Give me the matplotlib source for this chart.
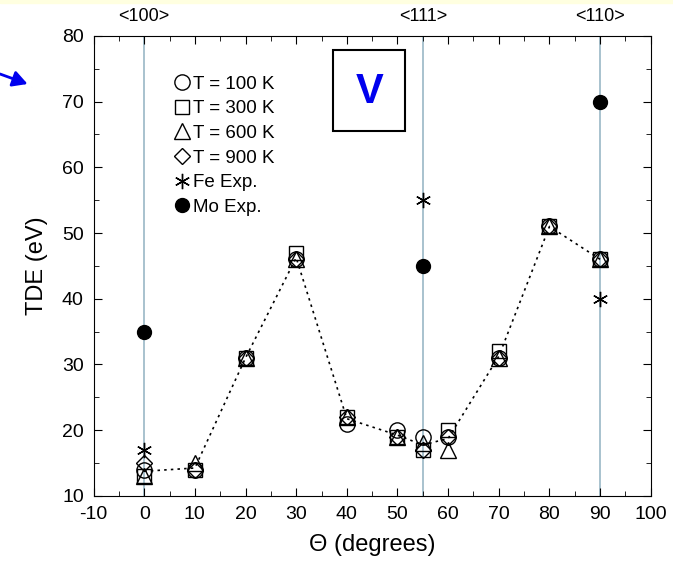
import matplotlib
matplotlib.use("Agg")
import matplotlib.pyplot as plt
import numpy as np
from matplotlib.patches import Rectangle

plt.rcParams['font.family'] = ['Liberation Sans', 'DejaVu Sans']
plt.rcParams['axes.unicode_minus'] = False

theta = [0, 10, 20, 30, 40, 50, 55, 60, 70, 80, 90]
tde_100 = [14, 14, 31, 46, 21, 20, 19, 19, 31, 51, 46]
tde_300 = [13, 14, 31, 47, 22, 19, 17, 20, 32, 51, 46]
tde_600 = [13, 15, 31, 46, 22, 19, 18, 17, 31, 51, 46]
tde_900 = [15, 14, 31, 46, 22, 19, 17, 19, 31, 51, 46]
fe_theta = [0, 55, 90]
fe_exp = [17, 55, 40]
mo_theta = [0, 55, 90]
mo_exp = [35, 45, 70]
dir_pos = [0, 55, 90]
dir_labels = ['<100>', '<111>', '<110>']

fig = plt.figure(figsize=(6.73, 5.61), dpi=100)
fig.patches.append(Rectangle((0, 1 - 3/561), 1, 3/561, transform=fig.transFigure,
                             color='#ffffe0', zorder=0))
ax = fig.add_axes([0.139, 0.116, 0.828, 0.820])

for p in dir_pos:
    ax.axvline(p, color='#9ab8c6', lw=1.2, zorder=1)

mean_line = np.mean([tde_100, tde_300, tde_600, tde_900], axis=0)
ax.plot(theta, mean_line, ls=(0, (1.5, 2.5)), color='black', lw=1.2, zorder=2)

ms = 11
kw = dict(ls='none', mfc='none', mec='black', mew=1.0, ms=ms, zorder=3)
ax.plot(theta, tde_100, marker='o', label='T = 100 K', **kw)
ax.plot(theta, tde_300, marker='s', label='T = 300 K', **{**kw, 'ms': 10.5})
ax.plot(theta, tde_600, marker='^', label='T = 600 K', **{**kw, 'ms': 12})
ax.plot(theta, tde_900, marker='D', label='T = 900 K', **{**kw, 'ms': 8.5})
ax.plot(fe_theta, fe_exp, marker=(6, 2, 0), ls='none', color='black', ms=11, mew=1.0,
        label='Fe Exp.', zorder=4)
ax.plot(mo_theta, mo_exp, marker='o', ls='none', color='black', ms=10,
        label='Mo Exp.', zorder=4)

ax.set_xlim(-10, 100)
ax.set_ylim(10, 80)
ax.set_xticks(np.arange(-10, 101, 10))
ax.set_xticks(np.arange(-5, 100, 5), minor=True)
ax.set_yticks(np.arange(10, 81, 10))
ax.set_yticks(np.arange(15, 80, 5), minor=True)
ax.tick_params(which='both', direction='in', top=True, right=True, labelsize=14)
ax.tick_params(which='major', length=6)
ax.tick_params(which='minor', length=3.5)
ax.tick_params(axis='x', pad=7)
ax.tick_params(axis='y', pad=7)

for p, lab in zip(dir_pos, dir_labels):
    ax.text(p, 81.7, lab, ha='center', va='bottom', fontsize=13)

ax.set_xlabel('Θ (degrees)', fontsize=17, labelpad=8)
ax.set_ylabel('TDE (eV)', fontsize=17, labelpad=10)

leg = ax.legend(loc='upper left', bbox_to_anchor=(0.135, 0.93), frameon=False,
                fontsize=13.5, handlelength=0.6, handletextpad=0.3, labelspacing=0.4,
                borderaxespad=0)

ax.add_patch(Rectangle((0.430, 0.793), 0.129, 0.177, transform=ax.transAxes,
                       fill=False, ec='black', lw=1.5, zorder=5))
ax.text(0.4945, 0.878, 'V', transform=ax.transAxes, ha='center', va='center',
        fontsize=30, fontweight='bold', color='#0000ee', zorder=6)

fig.add_artist(matplotlib.patches.FancyArrowPatch(
    (0.0, 1 - 74/561), (0.041, 1 - 84/561), transform=fig.transFigure,
    arrowstyle='-|>,head_length=0.55,head_width=0.3', mutation_scale=16,
    color='#0000ee', lw=2, shrinkA=0, shrinkB=0))

fig.savefig('out.png', dpi=100)
